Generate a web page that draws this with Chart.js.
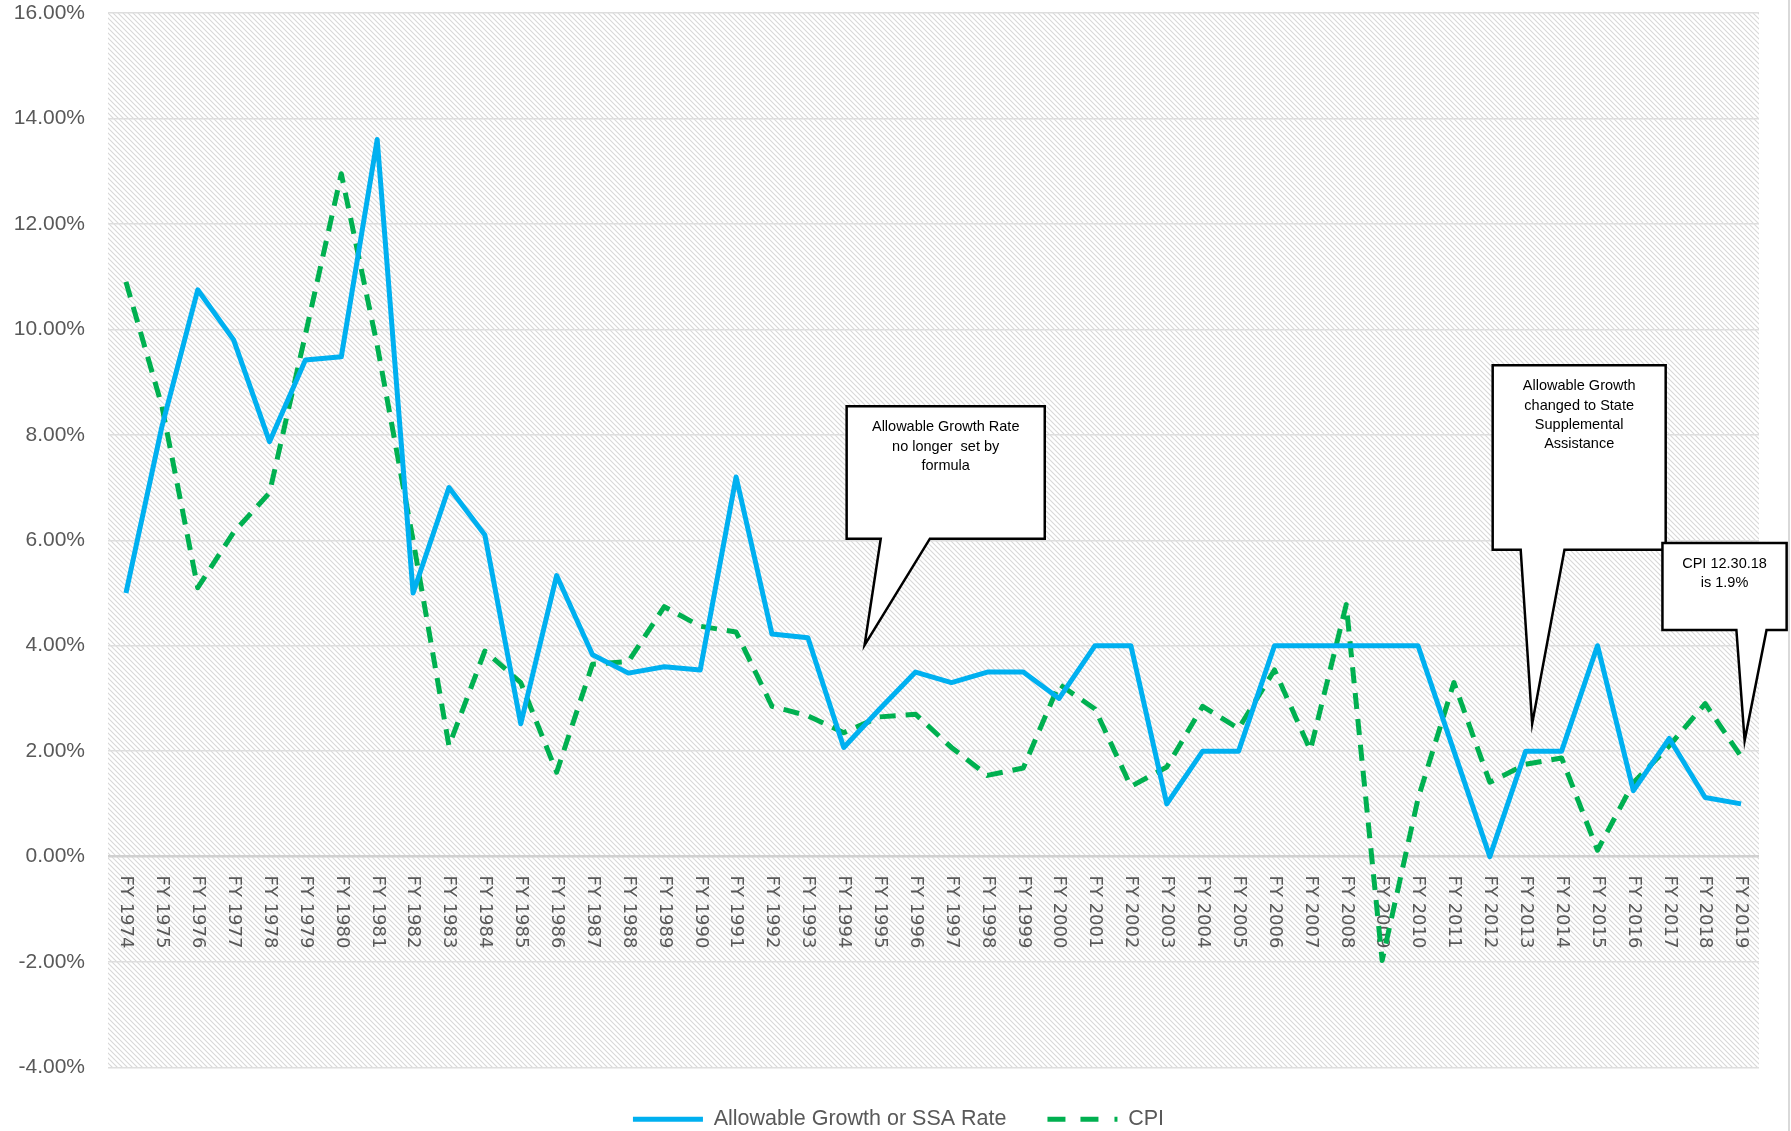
<!DOCTYPE html>
<html>
<head>
<meta charset="utf-8">
<script src="https://cdn.jsdelivr.net/npm/chart.js@4.4.1/dist/chart.umd.min.js"></script>
<style>
  html, body { margin: 0; padding: 0; background: #fff; }
  #wrap { width: 1791px; height: 1131px; }
</style>
</head>
<body>
<div id="wrap"><canvas id="grafico" width="1791" height="1131"></canvas></div>
<script>
// Anos fiscais
const anos = [
  "FY 1974", "FY 1975", "FY 1976", "FY 1977", "FY 1978", "FY 1979", "FY 1980",
  "FY 1981", "FY 1982", "FY 1983", "FY 1984", "FY 1985", "FY 1986", "FY 1987",
  "FY 1988", "FY 1989", "FY 1990", "FY 1991", "FY 1992", "FY 1993", "FY 1994",
  "FY 1995", "FY 1996", "FY 1997", "FY 1998", "FY 1999", "FY 2000", "FY 2001",
  "FY 2002", "FY 2003", "FY 2004", "FY 2005", "FY 2006", "FY 2007", "FY 2008",
  "FY 2009", "FY 2010", "FY 2011", "FY 2012", "FY 2013", "FY 2014", "FY 2015",
  "FY 2016", "FY 2017", "FY 2018", "FY 2019",
];

// Allowable Growth or SSA Rate (%)
const taxaPermitida = [
  5.0, 8.15, 10.75, 9.8, 7.87, 9.42, 9.48, 13.6, 5.0, 7.0, 6.1, 2.52, 5.33,
  3.83, 3.48, 3.6, 3.54, 7.2, 4.22, 4.15, 2.07, 2.8, 3.5, 3.3, 3.5, 3.5, 3.0,
  4.0, 4.0, 1.0, 2.0, 2.0, 4.0, 4.0, 4.0, 4.0, 4.0, 2.0, 0.0, 2.0, 2.0, 4.0,
  1.25, 2.24, 1.12, 1.0,
];

// CPI (%)
const cpi = [
  10.9, 8.55, 5.1, 6.15, 6.9, 9.9, 12.95, 9.7, 6.0, 2.1, 3.9, 3.3, 1.6, 3.65,
  3.7, 4.74, 4.37, 4.26, 2.85, 2.67, 2.35, 2.65, 2.7, 2.07, 1.54, 1.68, 3.27,
  2.8, 1.33, 1.7, 2.85, 2.43, 3.54, 2.02, 4.78, -1.97, 1.1, 3.3, 1.41, 1.75,
  1.87, 0.12, 1.4, 2.1, 2.9, 1.9,
];

// Marcas do eixo Y (%)
const ticksY = [-4, -2, 0, 2, 4, 6, 8, 10, 12, 14, 16];

// Balões de comentário (posições em índice de categoria / valor)
const notas = [
  {
    linhas: ["Allowable Growth Rate", "no longer  set by", "formula"],
    caixa: { x0: 20.08, x1: 25.6, topo: 8.54, base: 6.03 },
    cauda: { x0: 21.03, x1: 22.4 },
    ponta: { x: 20.58, y: 4.01 },
  },
  {
    linhas: ["Allowable Growth", "changed to State", "Supplemental", "Assistance"],
    caixa: { x0: 38.08, x1: 42.9, topo: 9.32, base: 5.82 },
    cauda: { x0: 38.86, x1: 40.08 },
    ponta: { x: 39.18, y: 2.52 },
  },
  {
    linhas: ["CPI 12.30.18", "is 1.9%"],
    caixa: { x0: 42.81, x1: 46.27, topo: 5.95, base: 4.3 },
    cauda: { x0: 44.87, x1: 45.71 },
    ponta: { x: 45.1, y: 2.2 },
  },
];

Chart.defaults.font.family = "'Liberation Sans', Arial, sans-serif";

// padrão hachurado do fundo
function criarHachura(ctx) {
  const c = document.createElement("canvas");
  c.width = 5;
  c.height = 5;
  const g = c.getContext("2d");
  g.strokeStyle = "#d8d8d8";
  g.lineWidth = 1.1;
  g.beginPath();
  g.moveTo(-1, -1);
  g.lineTo(6, 6);
  g.moveTo(4, -1);
  g.lineTo(6, 1);
  g.moveTo(-1, 4);
  g.lineTo(1, 6);
  g.stroke();
  return ctx.createPattern(c, "repeat");
}

const pluginFundo = {
  id: "fundo",
  afterLayout(chart) {
    // centraliza a legenda na largura total do canvas
    const desloc = chart.options.layout.padding.right / 2 + 3;
    chart.legend.left += desloc;
    chart.legend.right += desloc;
  },
  beforeDraw(chart) {
    const { ctx, chartArea: a, width, height } = chart;
    ctx.save();
    ctx.fillStyle = "#ffffff";
    ctx.fillRect(0, 0, width, height);
    ctx.fillStyle = criarHachura(ctx);
    ctx.fillRect(a.left, a.top, a.right - a.left, a.bottom - a.top);
    // borda direita do gráfico
    ctx.strokeStyle = "#d9d9d9";
    ctx.lineWidth = 2;
    ctx.beginPath();
    ctx.moveTo(width - 2, 0);
    ctx.lineTo(width - 2, height);
    ctx.stroke();
    ctx.restore();
  },
};

// rótulos do eixo X girados 90° no sentido horário, junto à linha do zero
const pluginRotulosX = {
  id: "rotulosX",
  beforeDatasetsDraw(chart) {
    const { ctx, scales } = chart;
    const y0 = scales.y.getPixelForValue(0) + 19;
    ctx.save();
    ctx.fillStyle = "#595959";
    ctx.font = "18px 'DejaVu Sans'";
    ctx.textAlign = "left";
    ctx.textBaseline = "middle";
    anos.forEach((rotulo, i) => {
      const x = scales.x.getPixelForValue(i);
      ctx.save();
      ctx.translate(x, y0);
      ctx.rotate(Math.PI / 2);
      ctx.fillText(rotulo, 0, 0);
      ctx.restore();
    });
    ctx.restore();
  },
};

const pluginBaloes = {
  id: "baloes",
  afterDatasetsDraw(chart) {
    const { ctx, scales } = chart;
    const px = (v) => scales.x.getPixelForValue(v);
    const py = (v) => scales.y.getPixelForValue(v);
    ctx.save();
    notas.forEach((n) => {
      const x0 = px(n.caixa.x0), x1 = px(n.caixa.x1);
      const yt = py(n.caixa.topo), yb = py(n.caixa.base);
      ctx.beginPath();
      ctx.moveTo(x0, yt);
      ctx.lineTo(x1, yt);
      ctx.lineTo(x1, yb);
      ctx.lineTo(px(n.cauda.x1), yb);
      ctx.lineTo(px(n.ponta.x), py(n.ponta.y));
      ctx.lineTo(px(n.cauda.x0), yb);
      ctx.lineTo(x0, yb);
      ctx.closePath();
      ctx.fillStyle = "#ffffff";
      ctx.fill();
      ctx.strokeStyle = "#000000";
      ctx.lineWidth = 2.5;
      ctx.lineJoin = "miter";
      ctx.stroke();

      ctx.fillStyle = "#000000";
      ctx.font = "14.5px 'Liberation Sans'";
      ctx.textAlign = "center";
      ctx.textBaseline = "middle";
      n.linhas.forEach((t, k) => {
        ctx.fillText(t, (x0 + x1) / 2, yt + 21 + k * 19.3);
      });
    });
    ctx.restore();
  },
};

// traço da legenda: o estilo "line" perde o borderDash do dataset
const tracosLegenda = [[], [18, 15, 18, 16, 3, 200]];

const ctx = document.getElementById("grafico").getContext("2d");

const grafico = new Chart(ctx, {
  type: "line",
  data: {
    labels: anos,
    datasets: [
      {
        label: "Allowable Growth or SSA Rate",
        data: taxaPermitida,
        borderColor: "#00b0f0",
        backgroundColor: "#00b0f0",
        borderWidth: 5,
        borderJoinStyle: "round",
        pointRadius: 0,
        tension: 0,
        fill: false,
      },
      {
        label: "CPI",
        data: cpi,
        borderColor: "#00b050",
        backgroundColor: "#00b050",
        borderWidth: 5,
        borderDash: [16, 10],
        borderCapStyle: "butt",
        borderJoinStyle: "round",
        pointRadius: 0,
        tension: 0,
        fill: false,
      },
    ],
  },
  options: {
    responsive: false,
    devicePixelRatio: 1,
    animation: false,
    layout: { padding: { top: 13, right: 32, bottom: -9, left: 0 } },
    scales: {
      x: {
        offset: true,
        ticks: { display: false },
        grid: { display: false, drawTicks: false },
        border: { display: false },
      },
      y: {
        min: ticksY[0],
        max: ticksY[ticksY.length - 1],
        ticks: {
          stepSize: ticksY[1] - ticksY[0],
          padding: 0,
          color: "#595959",
          font: { size: 21 },
          callback: (v) => v.toFixed(2) + "%",
        },
        grid: {
          drawTicks: true,
          tickLength: 23,
          tickColor: "rgba(0,0,0,0)",
          color: (c) => (c.tick && c.tick.value === 0 ? "#d0d0d0" : "#dedede"),
          lineWidth: (c) => (c.tick && c.tick.value === 0 ? 2.5 : 1.5),
        },
        border: { display: false },
        afterFit(scale) {
          scale.width = 108;
        },
      },
    },
    plugins: {
      tooltip: { enabled: false },
      legend: {
        position: "bottom",
        labels: {
          usePointStyle: true,
          pointStyle: "line",
          pointStyleWidth: 70,
          padding: 41,
          color: "#595959",
          font: { size: 21.5 },
          generateLabels(chart) {
            const itens = Chart.defaults.plugins.legend.labels.generateLabels(chart);
            itens.forEach((it) => {
              const ds = chart.data.datasets[it.datasetIndex];
              it.lineDash = tracosLegenda[it.datasetIndex];
              it.lineWidth = 5;
              it.strokeStyle = ds.borderColor;
              it.lineCap = "butt";
            });
            return itens;
          },
        },
      },
    },
  },
  plugins: [pluginFundo, pluginRotulosX, pluginBaloes],
});
</script>
</body>
</html>
